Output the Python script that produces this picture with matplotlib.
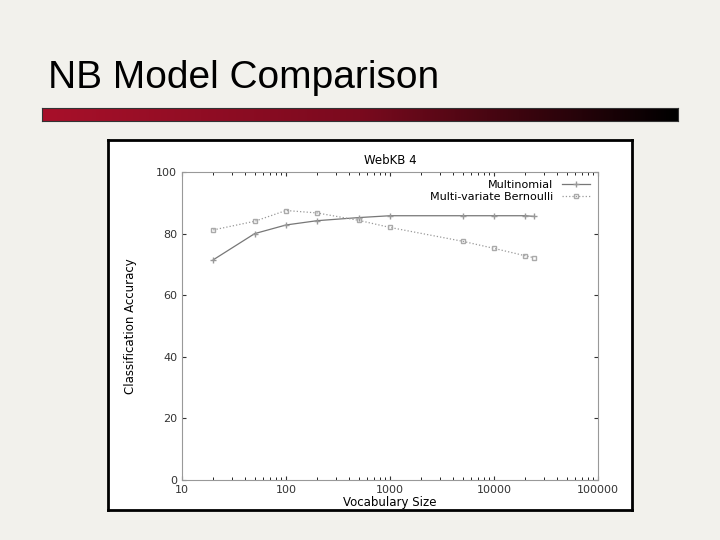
import matplotlib
matplotlib.use("Agg")
import matplotlib.pyplot as plt
import numpy as np
from matplotlib.colors import LinearSegmentedColormap

vocab = [20, 50, 100, 200, 500, 1000, 5000, 10000, 20000, 24000]
multinomial = [71.5, 80, 82.8, 84.2, 85.2, 85.8, 85.8, 85.8, 85.8, 85.6]
bernoulli = [81.2, 84, 87.5, 86.7, 84.3, 82, 77.5, 75.2, 72.8, 72.2]

fig = plt.figure(figsize=(7.2, 5.4), dpi=100)
fig.patch.set_facecolor("#f2f1ec")
fig.text(48/720, 1-78/540, "NB Model Comparison", fontsize=28, family=["Liberation Sans", "DejaVu Sans"], va="center", ha="left")
gax = fig.add_axes([42/720, 1-121/540, 636/720, 13/540])
grad = np.linspace(0, 1, 256).reshape(1, -1)
cm = LinearSegmentedColormap.from_list("g", ["#a8102a", "#7a0a1e", "#000000"])
gax.imshow(grad, aspect="auto", cmap=cm)
gax.set_xticks([]); gax.set_yticks([])
for s in gax.spines.values(): s.set_color("#333")

fax = fig.add_axes([108/720, 1-510/540, 524/720, 370/540])
fax.set_facecolor("white")
fax.set_xticks([]); fax.set_yticks([])
for s in fax.spines.values(): s.set_linewidth(2); s.set_color("black")

ax = fig.add_axes([182/720, 1-480/540, 416/720, 308/540])
ax.set_facecolor("white")
ax.plot(vocab, multinomial, color="#777", lw=0.9, marker="+", ms=4, mec="#999", label="Multinomial")
ax.plot(vocab, bernoulli, color="#999", lw=0.9, ls=":", marker="s", ms=3.5, mfc="none", mec="#aaa", label="Multi-variate Bernoulli")
ax.set_xscale("log")
ax.set_xlim(10, 100000)
ax.set_ylim(0, 100)
ax.set_yticks([0, 20, 40, 60, 80, 100])
ax.set_xticks([10, 100, 1000, 10000, 100000])
ax.set_xticklabels(["10", "100", "1000", "10000", "100000"])
ax.tick_params(labelsize=8, direction="in", colors="#333", length=3)
ax.tick_params(which="minor", direction="in", length=2)
ax.tick_params(right=True, top=True, which="both")
for s in ax.spines.values(): s.set_color("#999")
ax.set_title("WebKB 4", fontsize=8.5, pad=6)
ax.set_xlabel("Vocabulary Size", fontsize=8.5, labelpad=1)
ax.set_ylabel("Classification Accuracy", fontsize=8.5, labelpad=14)
ax.legend(loc="upper right", frameon=False, fontsize=8, markerfirst=False, handlelength=2.5, borderaxespad=0.3, labelspacing=0.2)
fig.savefig("out.png", dpi=100, facecolor=fig.get_facecolor())
